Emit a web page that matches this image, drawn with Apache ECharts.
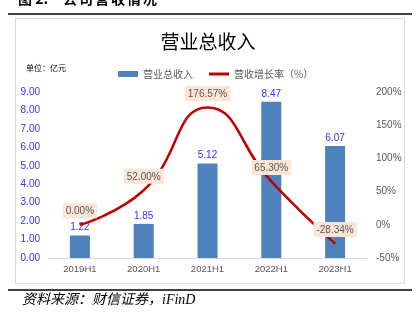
<!DOCTYPE html>
<html><head><meta charset="utf-8">
<script src="https://cdn.jsdelivr.net/npm/echarts@6/dist/echarts.min.js"></script>
<style>html,body{margin:0;padding:0;background:#fff;}#c{width:416px;height:328px;}</style>
</head><body><div id="c"></div>
<script>
const categories = ['2019H1','2020H1','2021H1','2022H1','2023H1'];
const revenue = [1.22, 1.85, 5.12, 8.47, 6.07];
const growth = [0.00, 52.00, 176.57, 65.30, -28.34];
const leftTicks = {min: 0, max: 9, interval: 1};
const rightTicks = {min: -50, max: 200, interval: 50};

const chart = echarts.init(document.getElementById('c'), null, {renderer: 'canvas'});
const cjk = '"Noto Sans CJK SC", sans-serif';
const latin = '"Liberation Sans", "Noto Sans CJK SC", sans-serif';
const headChars = ['公','司','营','收','情','况'];
const graphics = [
  {type: 'text', left: 18, top: -8, style: {text: '图 2:', fontSize: 14, fontWeight: 'bold', fontFamily: cjk, fill: '#000'}},
  {type: 'line', shape: {x1: 8, y1: 14, x2: 412, y2: 14}, style: {stroke: '#000', lineWidth: 1.5}},
  {type: 'rect', shape: {x: 15.5, y: 18.5, width: 389, height: 265}, style: {fill: 'none', stroke: '#d9d9d9', lineWidth: 1}},
  {type: 'line', shape: {x1: 8, y1: 290, x2: 412, y2: 290}, style: {stroke: '#000', lineWidth: 1.5}},
  {type: 'text', left: 22, top: 293, style: {text: '资料来源：财信证券，iFinD', fontSize: 14, fontStyle: 'italic', fontFamily: '"Liberation Serif", "Noto Sans CJK SC", serif', fill: '#000'}},
  {type: 'text', left: 26, top: 64, style: {text: '单位：亿元', fontSize: 8, fontFamily: cjk, fill: '#000'}}
];
headChars.forEach((ch, i) => graphics.push({type: 'text', left: 63 + i * 16, top: -8, style: {text: ch, fontSize: 14, fontWeight: 'bold', fontFamily: cjk, fill: '#000'}}));

chart.setOption({
  animation: false,
  backgroundColor: '#fff',
  graphic: graphics,
  title: {
    text: '营业总收入', left: 'center', top: 27,
    textStyle: {fontSize: 19, fontWeight: 'normal', fontFamily: cjk, color: '#000'}
  },
  legend: {
    left: 113, top: 64, itemGap: 16, itemHeight: 6, itemWidth: 20,
    textStyle: {fontSize: 10, fontFamily: cjk, color: '#595959'},
    data: [
      {name: '营业总收入', icon: 'rect'},
      {name: '营收增长率（%）', icon: 'path://M0,0H20V3H0Z'}
    ]
  },
  grid: {left: 48, right: 49, top: 92, bottom: 70},
  xAxis: {
    type: 'category', data: categories,
    axisLine: {lineStyle: {color: '#d9d9d9'}},
    axisTick: {show: false},
    axisLabel: {color: '#595959', fontSize: 9.5, fontFamily: latin, margin: 7}
  },
  yAxis: [
    {type: 'value', min: leftTicks.min, max: leftTicks.max, interval: leftTicks.interval,
     splitLine: {show: false}, axisLine: {show: false}, axisTick: {show: false},
     axisLabel: {color: '#3333ff', fontSize: 10, fontFamily: latin, margin: 8, formatter: v => v.toFixed(2)}},
    {type: 'value', min: rightTicks.min, max: rightTicks.max, interval: rightTicks.interval,
     splitLine: {show: false}, axisLine: {show: false}, axisTick: {show: false},
     axisLabel: {color: '#595959', fontSize: 10, fontFamily: latin, margin: 9, formatter: v => v + '%'}}
  ],
  series: [
    {name: '营业总收入', type: 'bar', data: revenue, barWidth: 20, yAxisIndex: 0,
     itemStyle: {color: '#4F81BD'},
     label: {show: true, position: 'top', distance: 3, color: '#3333ff', fontSize: 10, fontFamily: latin, formatter: p => p.value.toFixed(2)}},
    {name: '营收增长率（%）', type: 'line', data: growth, yAxisIndex: 1, smooth: 0.5,
     symbol: 'circle', symbolSize: 1, showSymbol: true, lineStyle: {color: '#C00000', width: 2.5}, itemStyle: {color: '#C00000'},
     label: {show: true, position: 'top', distance: 6, color: '#595959', fontSize: 10, fontFamily: latin,
       backgroundColor: '#FCE4D6', padding: [3, 3, 2, 3], formatter: p => p.value.toFixed(2) + '%'}}
  ]
});
</script></body></html>
